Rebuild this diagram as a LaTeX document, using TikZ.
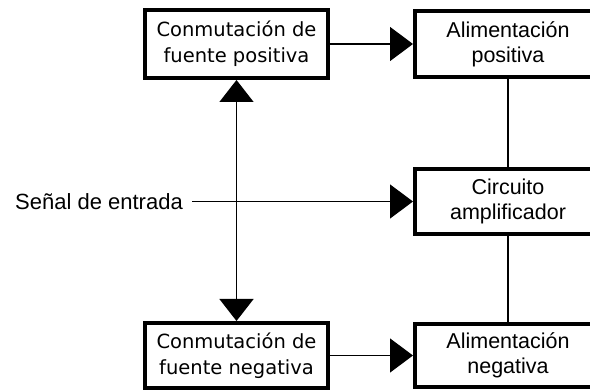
\documentclass[tikz,border=0pt]{standalone}
\usepackage{fontspec}
\setmainfont{Liberation Sans}
\newfontfamily\boxfont{DejaVu Sans}
\usetikzlibrary{arrows.meta}
\begin{document}
\begin{tikzpicture}[x=1pt,y=-1pt,
  box/.style={draw, line width=4pt, fill=white, inner sep=0pt, align=center},
  leftbox/.style={box, minimum width=183pt, font=\boxfont\fontsize{19.5}{26}\selectfont},
  rightbox/.style={box, minimum width=186pt, font=\fontsize{21.5}{25}\selectfont},
  conn/.style={line width=1.3pt, -{Triangle[length=23pt,width=34pt]}},
  dconn/.style={line width=1.3pt, {Triangle[length=22pt,width=34pt]}-{Triangle[length=22pt,width=34pt]}},
  plain/.style={line width=1.2pt}]
\useasboundingbox (0,0) rectangle (590,390);
\clip (0,0) rectangle (590,390);
\node[leftbox, minimum height=68pt] (tl) at (236.5,44) {Conmutación de\\fuente positiva};
\node[leftbox, minimum height=65pt] (bl) at (236.5,355.5) {Conmutación de\\fuente negativa};
\node[rightbox, minimum height=66pt] (tr) at (508,44) {Alimentación\\positiva};
\node[rightbox, minimum height=65pt] (mid) at (508,201.5) {Circuito\\amplificador};
\node[rightbox, minimum height=63pt] (br) at (508,355.5) {Alimentación\\negativa};
\node[anchor=east, inner xsep=9pt, inner ysep=0pt, font=\fontsize{22}{26}\selectfont] (sig) at (192,201.5) {Señal de entrada};
\draw[conn] (tl.east) -- (tl.east -| tr.west);
\draw[conn] (bl.east) -- (bl.east -| br.west);
\draw[conn] (sig.east) -- (sig.east -| mid.west);
\draw[dconn] (tl.south) -- (bl.north);
\draw[plain] (tr.south) -- (mid.north);
\draw[plain] (mid.south) -- (br.north);
\end{tikzpicture}
\end{document}
